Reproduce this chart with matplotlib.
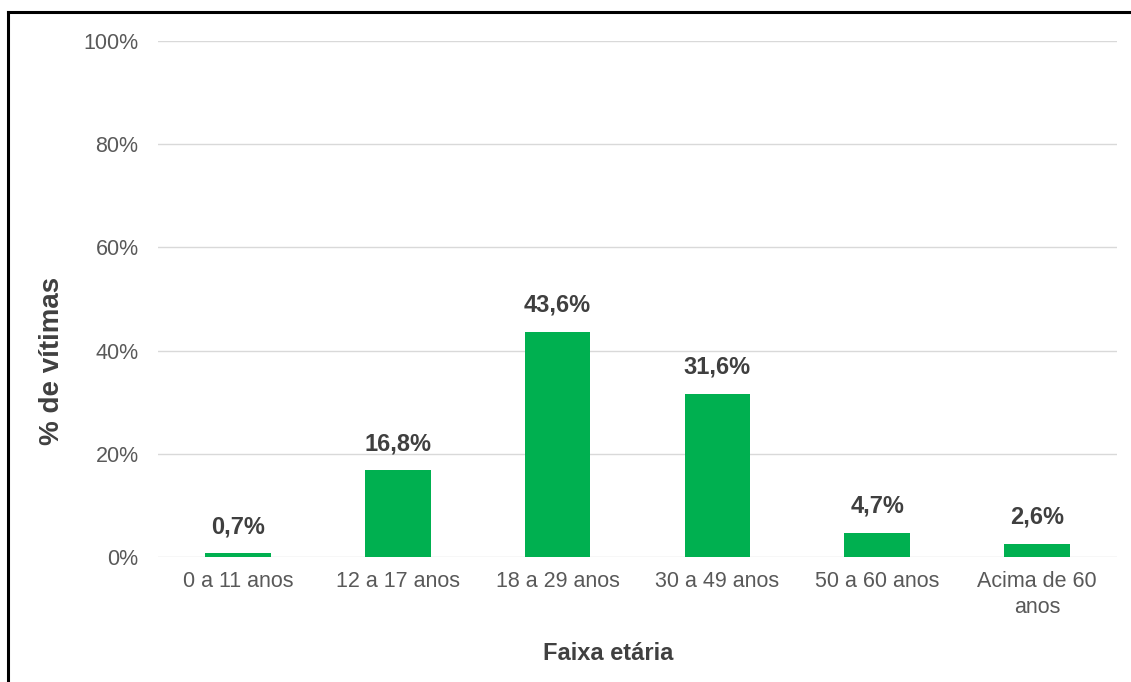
import matplotlib.pyplot as plt
from matplotlib.lines import Line2D

plt.rcParams['font.family'] = ['Liberation Sans', 'DejaVu Sans']

faixas = ['0 a 11 anos', '12 a 17 anos', '18 a 29 anos', '30 a 49 anos',
          '50 a 60 anos', 'Acima de 60\nanos']
percentuais = [0.7, 16.8, 43.6, 31.6, 4.7, 2.6]
rotulos = ['0,7%', '16,8%', '43,6%', '31,6%', '4,7%', '2,6%']
yticks = [0, 20, 40, 60, 80, 100]

fig = plt.figure(figsize=(11.31, 6.82), dpi=100)
ax = fig.add_axes([0.1397, 0.1833, 0.8479, 0.7566])

x = range(len(faixas))
ax.bar(x, percentuais, width=0.41, color='#00B050', zorder=3)

for i, (v, r) in enumerate(zip(percentuais, rotulos)):
    ax.annotate(r, (i, v), xytext=(0, 11), textcoords='offset points',
                ha='center', va='bottom', fontsize=17, fontweight='bold',
                color='#3F3F3F')

ax.set_xlim(-0.5, len(faixas) - 0.5)
ax.set_ylim(0, 100)
ax.set_yticks(yticks)
ax.set_yticklabels([f'{t}%' for t in yticks])
ax.set_xticks(list(x))
ax.set_xticklabels(faixas, linespacing=1.35)
ax.tick_params(axis='both', length=0, labelsize=15.5, colors='#595959')
ax.tick_params(axis='x', pad=10)
ax.tick_params(axis='y', pad=14)
ax.grid(axis='y', color='#D9D9D9', linewidth=1, zorder=0)
for s in ax.spines.values():
    s.set_visible(False)

# títulos dos eixos
fig.text(0.5376, 0.0425, 'Faixa etária', fontsize=17, fontweight='bold',
         color='#404040', ha='center', va='center')
fig.text(0.046, 0.4707, '% de vítimas', fontsize=20, fontweight='bold',
         color='#404040', ha='center', va='center', rotation=90)

# moldura preta no topo e na esquerda
fig.add_artist(Line2D([0.0075, 0.0075], [0, 0.9831], color='black', lw=2.2,
                      transform=fig.transFigure))
fig.add_artist(Line2D([0.0075, 1], [0.9831, 0.9831], color='black', lw=2.2,
                      transform=fig.transFigure))

fig.savefig('out.png', dpi=100)
